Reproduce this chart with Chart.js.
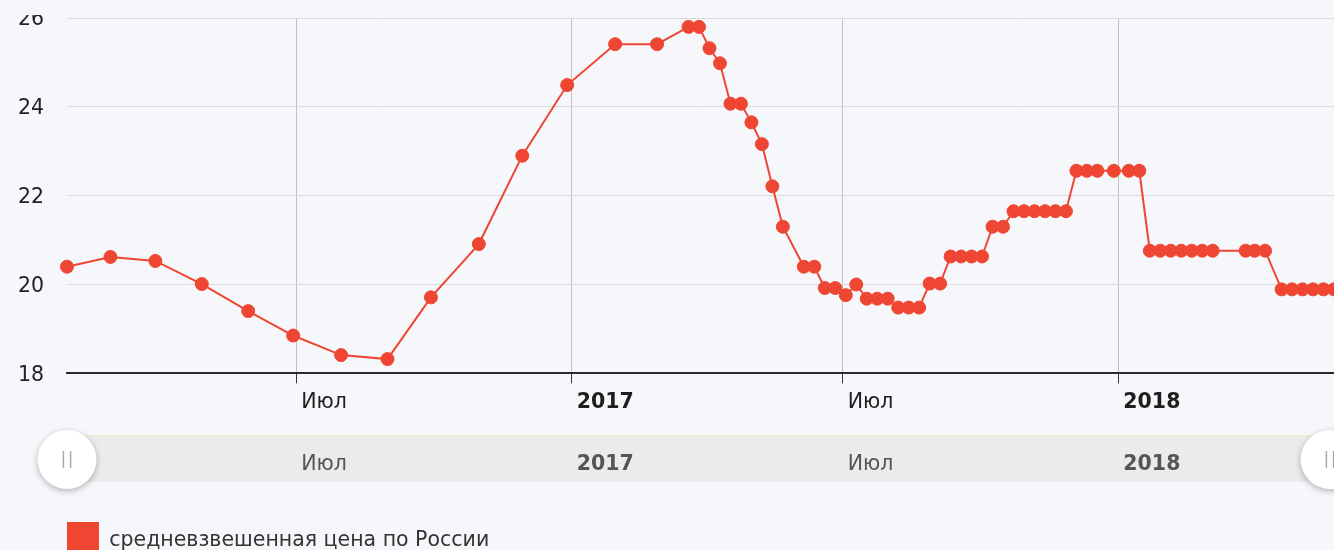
<!DOCTYPE html>
<html lang="ru">
<head>
<meta charset="utf-8">
<title>средневзвешенная цена по России</title>
<script src="https://cdn.jsdelivr.net/npm/chart.js@4.4.1/dist/chart.umd.min.js"></script>
<style>
  html, body { margin: 0; padding: 0; background: #f6f7fb; overflow: hidden; width: 1334px; height: 550px; position: relative; }
  #chart { position: absolute; left: 0; top: 15px; }
</style>
</head>
<body>
<canvas id="chart" width="1334" height="560"></canvas>
<script>
const seriesName = 'средневзвешенная цена по России';

const dates = [
  '2016-01-30', '2016-02-28', '2016-03-29', '2016-04-29', '2016-05-30', '2016-06-29',
  '2016-07-31', '2016-08-31', '2016-09-29', '2016-10-31', '2016-11-29', '2016-12-29',
  '2017-01-30', '2017-02-27', '2017-03-20', '2017-03-27', '2017-04-03', '2017-04-10',
  '2017-04-17', '2017-04-24', '2017-05-01', '2017-05-08', '2017-05-15', '2017-05-22',
  '2017-06-05', '2017-06-12', '2017-06-19', '2017-06-26', '2017-07-03', '2017-07-10',
  '2017-07-17', '2017-07-24', '2017-07-31', '2017-08-07', '2017-08-14', '2017-08-21',
  '2017-08-28', '2017-09-04', '2017-09-11', '2017-09-18', '2017-09-25', '2017-10-02',
  '2017-10-09', '2017-10-16', '2017-10-23', '2017-10-30', '2017-11-06', '2017-11-13',
  '2017-11-20', '2017-11-27', '2017-12-04', '2017-12-11', '2017-12-18', '2017-12-29',
  '2018-01-08', '2018-01-15', '2018-01-22', '2018-01-29', '2018-02-05', '2018-02-12',
  '2018-02-19', '2018-02-26', '2018-03-05', '2018-03-27', '2018-04-02', '2018-04-09',
  '2018-04-20', '2018-04-27', '2018-05-04', '2018-05-11', '2018-05-18', '2018-05-25'
];
const prices = [
  20.40, 20.62, 20.53, 20.01, 19.40, 18.85,
  18.41, 18.32, 19.71, 20.91, 22.90, 24.49,
  25.41, 25.41, 25.80, 25.80, 25.32, 24.98,
  24.07, 24.07, 23.65, 23.16, 22.21, 21.30,
  20.40, 20.40, 19.92, 19.92, 19.76, 20.00,
  19.68, 19.68, 19.68, 19.48, 19.48, 19.48,
  20.02, 20.02, 20.63, 20.63, 20.63, 20.63,
  21.30, 21.30, 21.65, 21.65, 21.65, 21.65,
  21.65, 21.65, 22.56, 22.56, 22.56, 22.56,
  22.56, 22.56, 20.76, 20.76, 20.76, 20.76,
  20.76, 20.76, 20.76, 20.76, 20.76, 20.76,
  19.89, 19.89, 19.89, 19.89, 19.89, 19.89
];

const tickDates = ['2016-07-01', '2017-01-01', '2017-07-01', '2018-01-01'];
const tickLabels = ['Июл', '2017', 'Июл', '2018'];
const viewRange = ['2016-01-30', '2018-05-25'];
const yRange = [18, 26];

const red = '#ee4632';
const fontFamily = '"DejaVu Sans", Verdana, sans-serif';
const fontSize = 20.5;

// days since 2016-01-01, used as the x value
const day = s => {
  const [y, m, d] = s.split('-').map(Number);
  return (Date.UTC(y, m - 1, d) - Date.UTC(2016, 0, 1)) / 864e5;
};
const isYear = label => /^\d{4}$/.test(label);

const points = dates.map((d, i) => ({ x: day(d), y: prices[i] }));
const tickValues = tickDates.map(day);

Chart.defaults.font.family = fontFamily;
Chart.defaults.font.size = fontSize;

// put the legend below the navigator strip
const placeLegend = {
  id: 'placeLegend',
  afterLayout(chart) {
    const lg = chart.legend;
    const w = lg.right - lg.left, h = lg.bottom - lg.top;
    lg.left = 57; lg.right = 57 + w;
    lg.top = 497; lg.bottom = 497 + h;
  }
};

function drawHandle(ctx, cx, cy) {
  ctx.save();
  ctx.shadowColor = 'rgba(0,0,0,0.28)';
  ctx.shadowBlur = 6;
  ctx.shadowOffsetY = 2;
  ctx.beginPath();
  ctx.arc(cx, cy, 29.5, 0, Math.PI * 2);
  ctx.fillStyle = '#ffffff';
  ctx.fill();
  ctx.restore();
  ctx.strokeStyle = '#a9a9a9';
  ctx.lineWidth = 1.5;
  ctx.beginPath();
  ctx.moveTo(cx - 3.6, cy - 8.5); ctx.lineTo(cx - 3.6, cy + 8.5);
  ctx.moveTo(cx + 3.6, cy - 8.5); ctx.lineTo(cx + 3.6, cy + 8.5);
  ctx.stroke();
}

// range selector strip under the axis
const navigator = {
  id: 'navigator',
  afterDraw(chart) {
    const { ctx, chartArea } = chart;
    const x = chart.scales.x;
    const top = 421, h = 46;
    ctx.save();
    ctx.fillStyle = '#ebebeb';
    ctx.fillRect(chartArea.left, top, chartArea.right - chartArea.left, h);
    ctx.fillStyle = '#f3ebcc';
    ctx.fillRect(chartArea.left, top - 1, chartArea.right - chartArea.left, 1);
    ctx.textBaseline = 'middle';
    ctx.textAlign = 'left';
    ctx.fillStyle = '#555555';
    tickValues.forEach((v, i) => {
      ctx.font = (isYear(tickLabels[i]) ? 'bold ' : '') + fontSize + 'px ' + fontFamily;
      ctx.fillText(tickLabels[i], x.getPixelForValue(v) + 5, top + 28.5);
    });
    drawHandle(ctx, chartArea.left, top + 23.5);
    drawHandle(ctx, 1330, top + 23.5);
    ctx.restore();
  }
};

new Chart(document.getElementById('chart'), {
  type: 'line',
  data: {
    datasets: [{
      label: seriesName,
      data: points,
      borderColor: red,
      backgroundColor: red,
      borderWidth: 2,
      pointRadius: 6.5,
      pointBorderWidth: 1,
      pointBackgroundColor: red,
      pointBorderColor: red,
      tension: 0,
      clip: false
    }]
  },
  options: {
    responsive: false,
    animation: false,
    events: [],
    layout: { autoPadding: false, padding: { top: 3, right: 0, bottom: 0, left: 0 } },
    scales: {
      x: {
        type: 'linear',
        min: day(viewRange[0]),
        max: day(viewRange[1]),
        afterBuildTicks: s => { s.ticks = tickValues.map(v => ({ value: v })); },
        afterFit: s => {
          s.paddingLeft = 0; s.paddingRight = 0;
          s.height = 560 - 358.3 - s.chart.legend.height;
        },
        ticks: {
          autoSkip: false,
          maxRotation: 0,
          align: 'start',
          labelOffset: 5,
          padding: 7,
          color: '#1e1e1e',
          callback: (value, index) => tickLabels[index],
          font: c => ({ family: fontFamily, size: fontSize, weight: isYear(tickLabels[c.index]) ? 'bold' : 'normal' })
        },
        grid: { color: '#c2c2c2', tickColor: '#333333', tickLength: 10, lineWidth: 1 },
        border: { color: '#2a2a2a', width: 2 }
      },
      y: {
        min: yRange[0],
        max: yRange[1],
        afterFit: s => { s.width = 67; s.paddingTop = 0; s.paddingBottom = 0; },
        ticks: { stepSize: 2, padding: 23, color: '#222222', labelOffset: 2 },
        grid: { color: '#dadada', drawTicks: false },
        border: { display: false }
      }
    },
    plugins: {
      tooltip: { enabled: false },
      legend: {
        position: 'bottom',
        align: 'start',
        labels: {
          boxWidth: 32,
          boxHeight: 38,
          color: '#333333',
          font: { size: fontSize },
          generateLabels: chart => Chart.defaults.plugins.legend.labels.generateLabels(chart)
            .map(l => Object.assign(l, { lineWidth: 0 }))
        }
      }
    }
  },
  plugins: [placeLegend, navigator]
});
</script>
</body>
</html>
